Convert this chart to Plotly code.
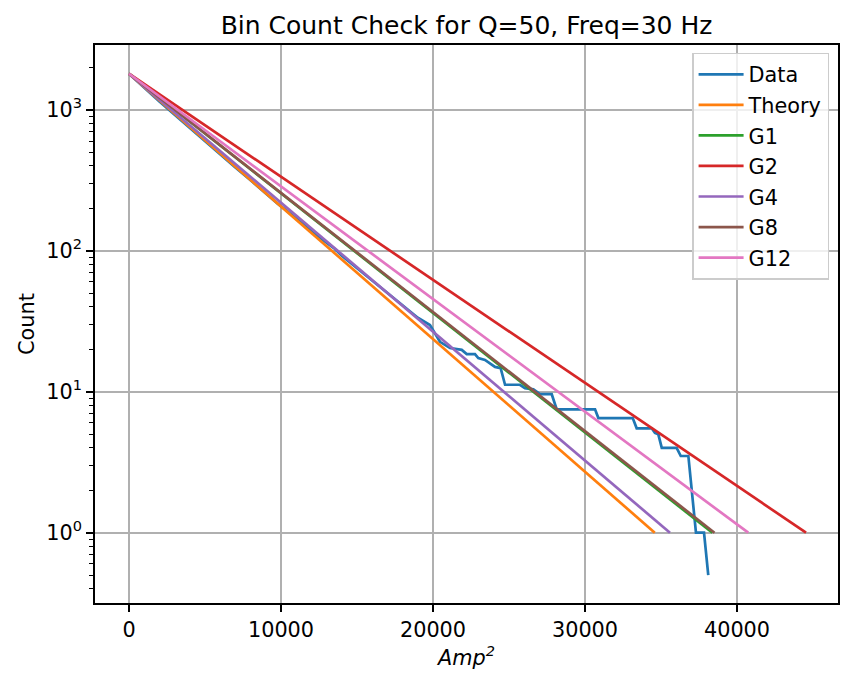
import plotly.graph_objects as go

# ---- data ----
data_x = [0, 1000, 2000, 3000, 4000, 5000, 6000, 7000, 8000, 9000, 9800, 10200,
          11000, 11600, 12200, 13000, 13500, 14000, 15000, 16000, 17000, 18000,
          19000, 19800, 20460, 21120, 21890, 22220, 22760, 22980, 23420, 24080,
          24450, 24740, 25720, 26050, 26600, 27040, 27810, 28140, 30660, 30880,
          33140, 33400, 34390, 34600, 34820, 35050, 36030, 36300, 36800, 37300,
          37830, 38110]
data_y = [1800, 1429, 1143, 923, 741, 596, 484, 389, 316, 254, 215, 199,
          170, 150, 132, 113, 104, 92, 75, 61, 50, 41,
          33.5, 29.7, 22.6, 20.4, 19.8, 18.5, 18.5, 17.3, 16.8, 15,
          14.7, 11.2, 11.2, 10.6, 10.4, 9.6, 9.6, 7.5, 7.5, 6.5,
          6.5, 5.5, 5.5, 5.1, 5, 4, 4, 3.5, 3.5, 1,
          1, 0.5]

model_names = ["Theory", "G1", "G2", "G4", "G8", "G12"]
model_start_x = 0
model_start_count = 1800
model_end_x = [34590, 38380, 44540, 35590, 38520, 40740]
model_end_count = 1

colors = ["#1f77b4", "#ff7f0e", "#2ca02c", "#d62728", "#9467bd", "#8c564b", "#e377c2"]

y_tickvals = [1, 10, 100, 1000]
y_ticktext = ["10<sup>0</sup>", "10<sup>1</sup>", "10<sup>2</sup>", "10<sup>3</sup>"]
y_minor = [0.4, 0.5, 0.6, 0.7, 0.8, 0.9,
           2, 3, 4, 5, 6, 7, 8, 9,
           20, 30, 40, 50, 60, 70, 80, 90,
           200, 300, 400, 500, 600, 700, 800, 900, 2000]
x_tickvals = [0, 10000, 20000, 30000, 40000]

FONT = "DejaVu Sans"
FS = 20.8
LW = 2.7

fig = go.Figure()
fig.add_trace(go.Scatter(x=data_x, y=data_y, mode="lines", name="Data",
                         line=dict(color=colors[0], width=LW), legendgroup="g0"))
for i, (nm, xe) in enumerate(zip(model_names, model_end_x)):
    fig.add_trace(go.Scatter(x=[model_start_x, xe], y=[model_start_count, model_end_count],
                             mode="lines", name=nm,
                             line=dict(color=colors[i + 1], width=LW),
                             legendgroup="g%d" % (i + 1)))

fig.update_layout(
    width=854, height=688,
    margin=dict(l=95, r=16, t=45, b=85),
    paper_bgcolor="white", plot_bgcolor="white",
    font=dict(family=FONT, size=FS, color="black"),
    title=dict(text="Bin Count Check for Q=50, Freq=30 Hz", x=(95 + 838) / 2 / 854,
               xanchor="center", y=1 - 25 / 688, yanchor="middle",
               font=dict(family=FONT, size=25, color="black")),
    legend=dict(x=0.988, y=0.986, xanchor="right", yanchor="top",
                bgcolor="rgba(255,255,255,0.8)", bordercolor="#cccccc", borderwidth=1.5,
                font=dict(family=FONT, size=FS), tracegroupgap=0.5,
                itemwidth=45, traceorder="grouped"),
    showlegend=True,
)
fig.update_xaxes(range=[-2237, 46645], tickvals=x_tickvals,
                 ticktext=[str(v) for v in x_tickvals],
                 showgrid=True, gridcolor="#b0b0b0", gridwidth=1.7, zeroline=False,
                 showline=True, linecolor="black", linewidth=1.7, mirror=True,
                 ticks="outside", ticklen=7, tickwidth=1.7, tickcolor="black",
                 tickfont=dict(family=FONT, size=FS),
                 title=dict(text="<i>Amp<sup>2</sup></i>", font=dict(family=FONT, size=FS),
                            standoff=6))
fig.update_yaxes(type="log", range=[-0.4986, 3.459], tickvals=y_tickvals, ticktext=y_ticktext,
                 showgrid=True, gridcolor="#b0b0b0", gridwidth=1.7, zeroline=False,
                 showline=True, linecolor="black", linewidth=1.7, mirror=True,
                 ticks="outside", ticklen=7, tickwidth=1.7, tickcolor="black",
                 tickfont=dict(family=FONT, size=FS),
                 minor=dict(tickvals=y_minor, ticks="outside", ticklen=4, tickwidth=1.2,
                            tickcolor="black", showgrid=False),
                 title=dict(text="Count", font=dict(family=FONT, size=FS), standoff=6))

fig.write_html("out.html")
